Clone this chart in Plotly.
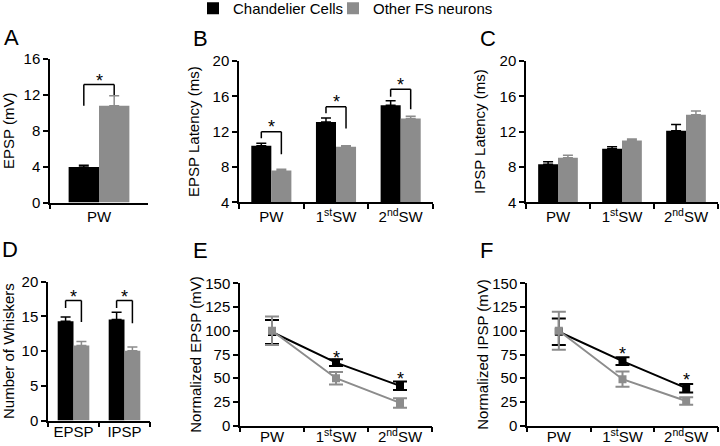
import plotly.graph_objects as go

# ---------------- data ----------------
cats_A = ["PW"]
A_cc = [3.95]
A_cc_err = [0.2]
A_fs = [10.8]
A_fs_err = [1.1]

cats_lat = ["PW", "1<sup>st</sup>SW", "2<sup>nd</sup>SW"]
B_cc = [10.4, 13.1, 15.0]
B_cc_err = [0.3, 0.45, 0.5]
B_fs = [7.6, 10.3, 13.5]
B_fs_err = [0.15, 0.1, 0.25]

C_cc = [8.3, 10.05, 12.1]
C_cc_err = [0.3, 0.25, 0.7]
C_fs = [9.05, 11.0, 13.9]
C_fs_err = [0.27, 0.18, 0.45]

cats_D = ["EPSP", "IPSP"]
D_cc = [14.3, 14.55]
D_cc_err = [0.6, 1.05]
D_fs = [10.8, 10.05]
D_fs_err = [0.6, 0.55]

E_cc = [98.7, 66.4, 42.0]
E_cc_err = [12.7, 3.5, 4.5]
E_fs = [100.0, 50.0, 24.0]
E_fs_err = [15.0, 6.5, 5.0]

F_cc = [99.0, 68.0, 39.5]
F_cc_err = [14.0, 4.0, 4.5]
F_fs = [100.0, 49.0, 26.0]
F_fs_err = [20.0, 8.0, 4.0]

# significance brackets: category index, top, left-leg bottom, right-leg bottom, star y
A_br_idx = [0]
A_br_top = [13.15]
A_br_left = [10.8]
A_br_right = [12.0]
A_star = [14.0]

B_br_idx = [0, 1, 2]
B_br_top = [12.0, 14.83, 16.8]
B_br_left = [11.24, 14.08, 15.96]
B_br_right = [9.44, 12.37, 14.53]
B_star = [12.95, 15.85, 17.7]

D_br_idx = [0, 1]
D_br_top = [17.3, 17.3]
D_br_left = [16.2, 16.2]
D_br_right = [14.2, 14.0]
D_star = [18.4, 18.4]

E_star_idx = [1, 2]
E_star = [76.0, 53.0]
F_star_idx = [1, 2]
F_star = [80.0, 52.0]

series_names = ["Chandelier Cells", "Other FS neurons"]
BLACK = "#000000"
GRAY = "#8c8c8c"
FONT = "Liberation Sans, Arial, Helvetica, sans-serif"
W, H = 720, 446
BARGAP = 0.38

fig = go.Figure()


def px_x(a, b):
    return [a / W, b / W]


def px_y(bottom, top):
    return [1 - bottom / H, 1 - top / H]


def bar_pair(cats, cc, cce, fs, fse, xa, ya, legend=False):
    fig.add_trace(go.Bar(
        x=cats, y=cc, name=series_names[0], marker=dict(color=BLACK, line=dict(width=0)),
        error_y=dict(type="data", array=cce, arrayminus=[0] * len(cce), symmetric=False,
                     color=BLACK, thickness=1.5, width=5),
        xaxis=xa, yaxis=ya, showlegend=legend, legend="legend"))
    fig.add_trace(go.Bar(
        x=cats, y=fs, name=series_names[1], marker=dict(color=GRAY, line=dict(width=0)),
        error_y=dict(type="data", array=fse, arrayminus=[0] * len(fse), symmetric=False,
                     color=GRAY, thickness=1.5, width=5),
        xaxis=xa, yaxis=ya, showlegend=legend, legend="legend2"))


def line_pair(cats, cc, cce, fs, fse, xa, ya):
    fig.add_trace(go.Scatter(
        x=cats, y=cc, mode="lines+markers", name=series_names[0],
        line=dict(color=BLACK, width=2), marker=dict(symbol="square", size=8, color=BLACK),
        error_y=dict(type="data", array=cce, color=BLACK, thickness=2, width=7),
        xaxis=xa, yaxis=ya, showlegend=False))
    fig.add_trace(go.Scatter(
        x=cats, y=fs, mode="lines+markers", name=series_names[1],
        line=dict(color=GRAY, width=2), marker=dict(symbol="square", size=8, color=GRAY),
        error_y=dict(type="data", array=fse, color=GRAY, thickness=2, width=7),
        xaxis=xa, yaxis=ya, showlegend=False))


bar_pair(cats_A, A_cc, A_cc_err, A_fs, A_fs_err, "x", "y", legend=True)
bar_pair(cats_lat, B_cc, B_cc_err, B_fs, B_fs_err, "x2", "y2")
bar_pair(cats_lat, C_cc, C_cc_err, C_fs, C_fs_err, "x3", "y3")
bar_pair(cats_D, D_cc, D_cc_err, D_fs, D_fs_err, "x4", "y4")
line_pair(cats_lat, E_cc, E_cc_err, E_fs, E_fs_err, "x5", "y5")
line_pair(cats_lat, F_cc, F_cc_err, F_fs, F_fs_err, "x6", "y6")

# brackets and stars
half = (1 - BARGAP) / 4
shapes = []
annotations = []


def brackets(idx, top, left, right, star, xr, yr):
    for i, t, l, r, s in zip(idx, top, left, right, star):
        x0, x1 = i - half, i + half
        ln = dict(color=BLACK, width=1.5)
        shapes.append(dict(type="line", xref=xr, yref=yr, x0=x0, x1=x0, y0=l, y1=t, line=ln))
        shapes.append(dict(type="line", xref=xr, yref=yr, x0=x0, x1=x1, y0=t, y1=t, line=ln))
        shapes.append(dict(type="line", xref=xr, yref=yr, x0=x1, x1=x1, y0=t, y1=r, line=ln))
        annotations.append(dict(text="*", x=i, y=s, xref=xr, yref=yr, showarrow=False,
                                font=dict(size=18, color=BLACK, family=FONT), yshift=-4))


def stars(idx, ys, xr, yr):
    for i, s in zip(idx, ys):
        annotations.append(dict(text="*", x=i, y=s, xref=xr, yref=yr, showarrow=False,
                                font=dict(size=18, color=BLACK, family=FONT), yshift=-4))


brackets(A_br_idx, A_br_top, A_br_left, A_br_right, A_star, "x", "y")
brackets(B_br_idx, B_br_top, B_br_left, B_br_right, B_star, "x2", "y2")
brackets(D_br_idx, D_br_top, D_br_left, D_br_right, D_star, "x4", "y4")
stars(E_star_idx, E_star, "x5", "y5")
stars(F_star_idx, F_star, "x6", "y6")

# panel letters
for letter, (px, py) in zip("ABCDEF", [(2, 37), (191, 38), (478, 38), (0, 250), (191, 251), (478, 251)]):
    annotations.append(dict(text=letter, x=px / W, y=1 - py / H, xref="paper", yref="paper",
                            xanchor="left", yanchor="middle", showarrow=False,
                            font=dict(size=22, color=BLACK, family=FONT)))

common_axis = dict(showline=True, linecolor=BLACK, linewidth=1.5, ticks="outside", ticklen=5,
                   tickwidth=1.5, tickcolor=BLACK, showgrid=False, zeroline=False,
                   tickfont=dict(size=15, color=BLACK, family=FONT))


def xax(dom, n, standoff=0):
    return dict(common_axis, domain=dom, type="category", range=[-0.5, n - 0.5],
                tickson="boundaries", ticklabelstandoff=standoff)


def yax(dom, rng, dtick, title, standoff, anchor):
    return dict(common_axis, domain=dom, range=rng, dtick=dtick, tick0=rng[0], anchor=anchor,
                title=dict(text=title, standoff=standoff, font=dict(size=15, color=BLACK, family=FONT)))


top_row_y = px_y(202.5, 59)
top_row_y2 = px_y(202.3, 61)
d_y = px_y(420.5, 281.7)
ef_y = px_y(425.7, 283.3)

legend_common = dict(orientation="h", xanchor="left", y=1 + 8 / H, yanchor="top",
                     font=dict(size=15, color=BLACK, family=FONT), bgcolor="rgba(0,0,0,0)")

fig.update_layout(
    width=W, height=H,
    margin=dict(l=0, r=0, t=0, b=0, autoexpand=False),
    paper_bgcolor="white", plot_bgcolor="white",
    font=dict(family=FONT, size=15, color=BLACK),
    barmode="group", bargap=BARGAP, bargroupgap=0,
    xaxis=dict(xax(px_x(50, 148), 1), anchor="y"),
    yaxis=yax(top_row_y, [0, 16], 4, "EPSP (mV)", 10, "x"),
    xaxis2=dict(xax(px_x(239, 433), 3), anchor="y2"),
    yaxis2=yax(top_row_y2, [4, 20], 4, "EPSP Latency (ms)", 9, "x2"),
    xaxis3=dict(xax(px_x(526, 718), 3), anchor="y3"),
    yaxis3=yax(top_row_y2, [4, 20], 4, "IPSP Latency (ms)", 10, "x3"),
    xaxis4=dict(xax(px_x(48, 150), 2, -3), anchor="y4"),
    yaxis4=yax(d_y, [0, 20], 5, "Number of Whiskers", 9, "x4"),
    xaxis5=dict(xax(px_x(240, 432), 3, -3), anchor="y5"),
    yaxis5=yax(ef_y, [0, 150], 25, "Normalized EPSP (mV)", 0, "x5"),
    xaxis6=dict(xax(px_x(527, 718), 3, -3), anchor="y6"),
    yaxis6=yax(ef_y, [0, 150], 25, "Normalized IPSP (mV)", 0, "x6"),
    legend=dict(legend_common, x=193 / W),
    legend2=dict(legend_common, x=333 / W),
    shapes=shapes,
    annotations=annotations,
)

fig.write_html("out.html", config={"displayModeBar": False},
               post_script="document.body.style.margin='0';")
